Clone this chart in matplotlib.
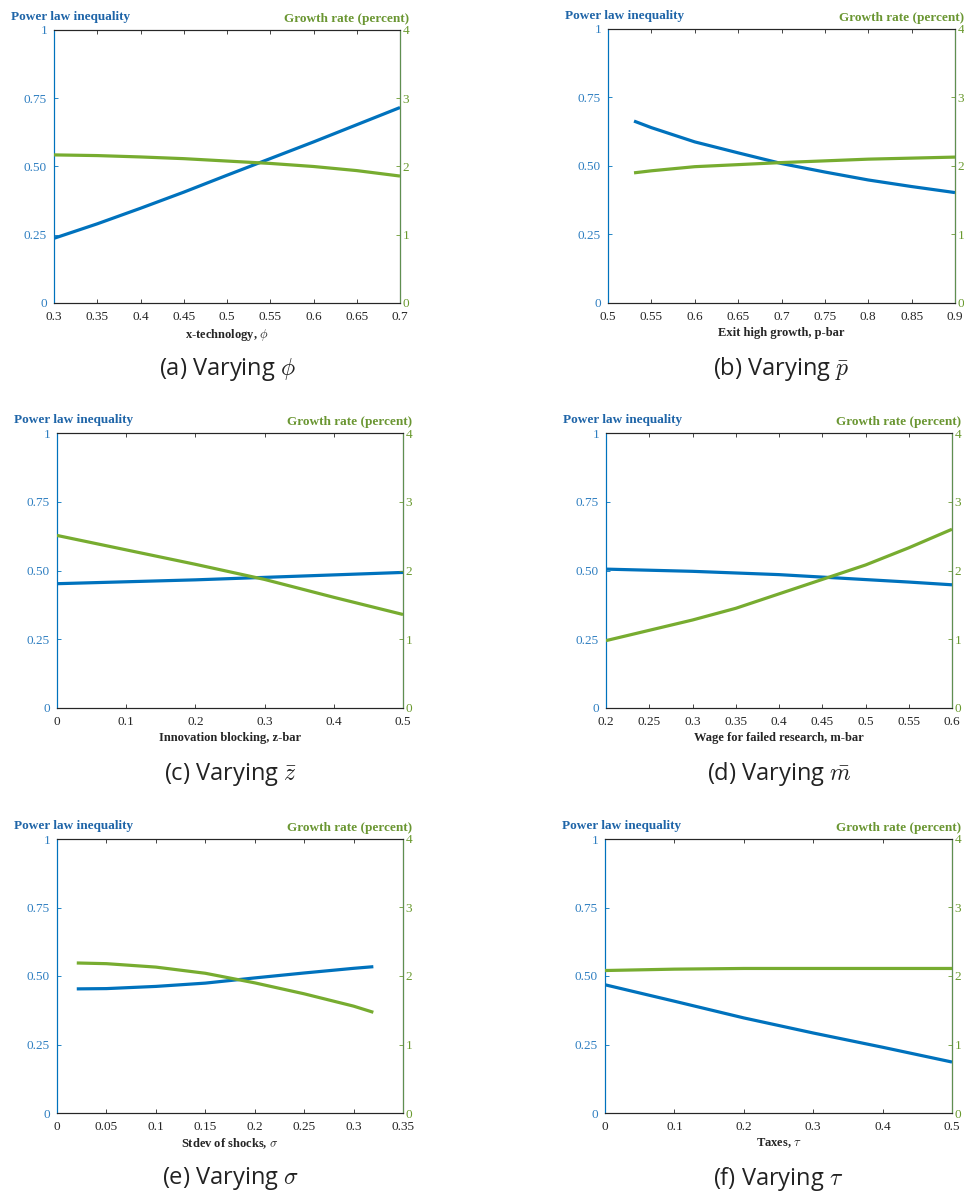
import matplotlib
matplotlib.use("Agg")
import matplotlib.pyplot as plt

plt.rcParams['mathtext.fontset'] = 'cm'

BLUE = '#0072BD'
GREEN = '#77AC30'
BLUE_TXT = '#2f7fc1'
GREEN_TXT = '#6a9a2f'
TITLE_BLUE = '#1f65a8'
TITLE_GREEN = '#6a9632'
DARK = '#262626'

# (a) Varying phi
a_x = [0.30, 0.35, 0.40, 0.45, 0.50, 0.55, 0.60, 0.65, 0.70]
a_ineq = [0.237, 0.290, 0.347, 0.406, 0.468, 0.529, 0.590, 0.653, 0.716]
a_growth = [2.17, 2.16, 2.14, 2.115, 2.08, 2.045, 2.00, 1.94, 1.86]

# (b) Varying p-bar
b_x = [0.53, 0.55, 0.60, 0.65, 0.70, 0.75, 0.80, 0.85, 0.90]
b_ineq = [0.664, 0.640, 0.588, 0.548, 0.509, 0.478, 0.449, 0.425, 0.403]
b_growth = [1.90, 1.93, 1.99, 2.02, 2.05, 2.075, 2.10, 2.115, 2.13]

# (c) Varying z-bar
c_x = [0.0, 0.1, 0.2, 0.3, 0.4, 0.5]
c_ineq = [0.452, 0.459, 0.466, 0.475, 0.484, 0.493]
c_growth = [2.51, 2.30, 2.09, 1.87, 1.61, 1.36]

# (d) Varying m-bar
d_x = [0.20, 0.25, 0.30, 0.35, 0.40, 0.45, 0.50, 0.55, 0.60]
d_ineq = [0.505, 0.501, 0.497, 0.491, 0.485, 0.476, 0.467, 0.458, 0.448]
d_growth = [0.98, 1.13, 1.28, 1.45, 1.66, 1.87, 2.08, 2.33, 2.60]

# (e) Varying sigma
e_x = [0.02, 0.05, 0.10, 0.15, 0.20, 0.25, 0.30, 0.32]
e_ineq = [0.453, 0.454, 0.462, 0.474, 0.493, 0.511, 0.528, 0.534]
e_growth = [2.19, 2.18, 2.13, 2.04, 1.90, 1.74, 1.56, 1.47]

# (f) Varying tau
f_x = [0.0, 0.1, 0.2, 0.3, 0.4, 0.5]
f_ineq = [0.468, 0.408, 0.347, 0.292, 0.240, 0.186]
f_growth = [2.08, 2.10, 2.11, 2.11, 2.11, 2.11]

left_ticks = [0, 0.25, 0.5, 0.75, 1]
left_ticklabels = ['0', '0.25', '0.50', '0.75', '1']
right_ticks = [0, 1, 2, 3, 4]

panels = [
    dict(x=a_x, ineq=a_ineq, growth=a_growth, xlim=(0.3, 0.7),
         xticks=[0.3, 0.35, 0.4, 0.45, 0.5, 0.55, 0.6, 0.65, 0.7],
         xlabel=r'x-technology, $\phi$', caption=r'(a) Varying $\phi$'),
    dict(x=b_x, ineq=b_ineq, growth=b_growth, xlim=(0.5, 0.9),
         xticks=[0.5, 0.55, 0.6, 0.65, 0.7, 0.75, 0.8, 0.85, 0.9],
         xlabel='Exit high growth, p-bar', caption=r'(b) Varying $\bar{p}$'),
    dict(x=c_x, ineq=c_ineq, growth=c_growth, xlim=(0, 0.5),
         xticks=[0, 0.1, 0.2, 0.3, 0.4, 0.5],
         xlabel='Innovation blocking, z-bar', caption=r'(c) Varying $\bar{z}$'),
    dict(x=d_x, ineq=d_ineq, growth=d_growth, xlim=(0.2, 0.6),
         xticks=[0.2, 0.25, 0.3, 0.35, 0.4, 0.45, 0.5, 0.55, 0.6],
         xlabel='Wage for failed research, m-bar', caption=r'(d) Varying $\bar{m}$'),
    dict(x=e_x, ineq=e_ineq, growth=e_growth, xlim=(0, 0.35),
         xticks=[0, 0.05, 0.1, 0.15, 0.2, 0.25, 0.3, 0.35],
         xlabel=r'Stdev of shocks, $\sigma$', caption=r'(e) Varying $\sigma$'),
    dict(x=f_x, ineq=f_ineq, growth=f_growth, xlim=(0, 0.5),
         xticks=[0, 0.1, 0.2, 0.3, 0.4, 0.5],
         xlabel=r'Taxes, $\tau$', caption=r'(f) Varying $\tau$'),
]

W, H = 964, 1194
fig = plt.figure(figsize=(W / 100, H / 100), dpi=100)

# axes boxes in pixels: left, right, top, bottom
boxes = [
    (54, 400, 30, 303),
    (608, 955, 29, 303),
    (57, 403, 433, 708),
    (606, 952, 433, 708),
    (57, 403, 839, 1113),
    (605, 952, 839, 1113),
]

serif = 'Liberation Serif'
TFS = 9.5

for p, (l, r, t, b) in zip(panels, boxes):
    ax = fig.add_axes([l / W, 1 - b / H, (r - l) / W, (b - t) / H])
    ax2 = ax.twinx()
    ax.plot(p['x'], p['ineq'], color=BLUE, lw=2.3, solid_capstyle='butt', zorder=3)
    ax2.plot(p['x'], p['growth'], color=GREEN, lw=2.3, solid_capstyle='butt', zorder=3)
    ax.set_xlim(*p['xlim'])
    ax.set_ylim(0, 1)
    ax2.set_ylim(0, 4)
    ax.set_xticks(p['xticks'])
    ax.set_xticklabels(['%g' % v for v in p['xticks']], fontfamily=serif, fontsize=TFS, color=DARK)
    ax.set_yticks(left_ticks)
    ax.set_yticklabels(left_ticklabels, fontfamily=serif, fontsize=TFS, color=BLUE_TXT)
    ax2.set_yticks(right_ticks)
    ax2.set_yticklabels([str(v) for v in right_ticks], fontfamily=serif, fontsize=TFS, color=GREEN_TXT)
    ax.tick_params(axis='x', direction='in', top=True, length=3, width=0.6, colors=DARK, pad=6)
    ax.tick_params(axis='y', direction='in', length=3, width=0.6, colors=BLUE, pad=5)
    ax2.tick_params(axis='y', direction='in', length=3, width=0.6, colors=GREEN_TXT, pad=2)
    for lab in ax.get_yticklabels():
        lab.set_color(BLUE_TXT)
    for lab in ax2.get_yticklabels():
        lab.set_color(GREEN_TXT)
    for lab in ax.get_xticklabels():
        lab.set_color(DARK)
    ax.spines['left'].set_color(BLUE)
    ax.spines['top'].set_color(DARK)
    ax.spines['bottom'].set_color(DARK)
    ax2.spines['right'].set_color('#5f8f50')
    ax2.spines['left'].set_color(BLUE)
    ax2.spines['top'].set_color(DARK)
    ax2.spines['bottom'].set_color(DARK)
    for s in list(ax.spines.values()) + list(ax2.spines.values()):
        s.set_linewidth(0.8)
    ax.set_xlabel(p['xlabel'], fontfamily=serif, fontsize=9, fontweight='bold', color=DARK, labelpad=2.5)
    # axis titles
    fig.text((l - 43) / W, 1 - (t - 13) / H, 'Power law inequality', fontfamily=serif,
             fontsize=9.5, fontweight='bold', color=TITLE_BLUE, ha='left', va='center')
    fig.text((r + 9) / W, 1 - (t - 11) / H, 'Growth rate (percent)', fontfamily=serif,
             fontsize=9.5, fontweight='bold', color=TITLE_GREEN, ha='right', va='center')
    # caption
    fig.text((l + r) / 2 / W, 1 - (b + 66) / H, p['caption'], fontfamily='Open Sans',
             fontsize=17, color='#222222', ha='center', va='center')

fig.savefig('out.png', dpi=100)
